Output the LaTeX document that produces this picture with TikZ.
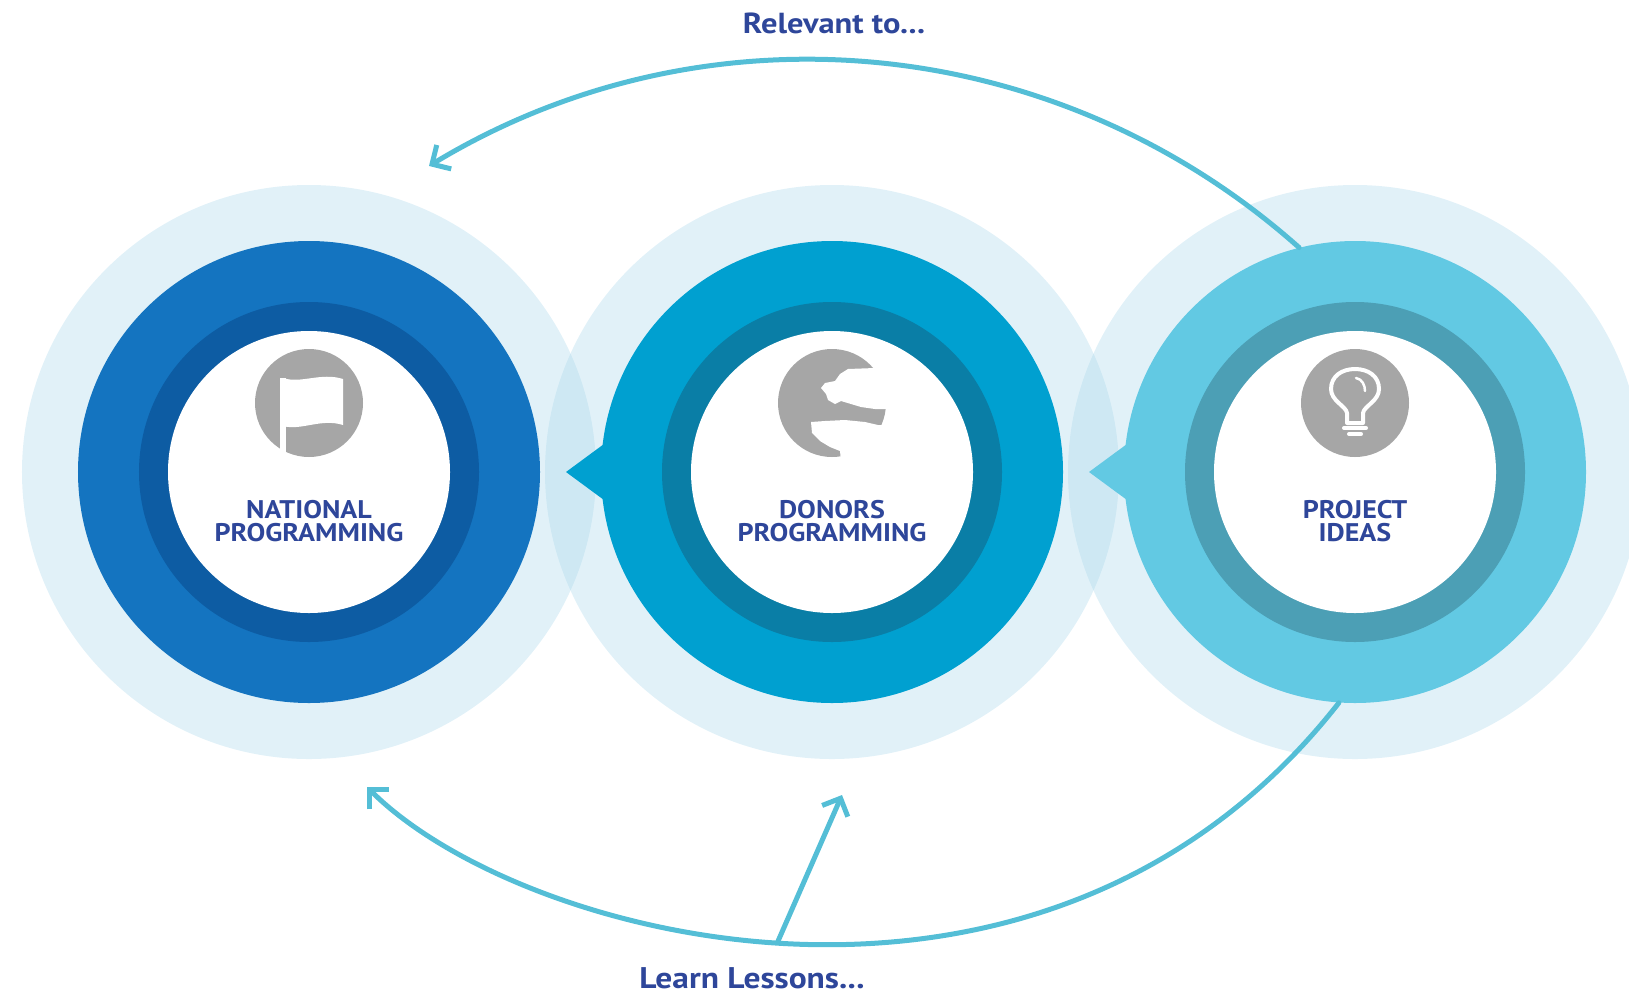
\documentclass[tikz,border=0pt]{standalone}
\usepackage{fontspec}
\setsansfont{PT Sans}
\newfontfamily\capsfont[FakeStretch=1.1]{PT Sans}
\newfontfamily\tagfont[FakeStretch=1.12]{PT Sans}
\usetikzlibrary{arrows.meta}
\definecolor{halocol}{RGB}{165,213,234}
\definecolor{natmain}{RGB}{20,116,192}
\definecolor{natband}{RGB}{13,92,163}
\definecolor{donmain}{RGB}{0,160,208}
\definecolor{donband}{RGB}{10,126,166}
\definecolor{promain}{RGB}{98,201,227}
\definecolor{proband}{RGB}{76,159,181}
\definecolor{iconc}{RGB}{166,166,166}
\definecolor{labelc}{RGB}{46,70,154}
\definecolor{arrowc}{RGB}{84,190,214}
\begin{document}
\begin{tikzpicture}[x=0.2mm, y=-0.2mm, font=\sffamily\bfseries, line join=round, line cap=round]
	\def\dx{523}
	\tikzset{halo/.style={circle,inner sep=0,minimum size=114.8mm,fill=halocol,fill opacity=0.33},
		ring/.style={circle,inner sep=0,minimum size=92.4mm},
		band/.style={circle,inner sep=0,minimum size=68mm},
		core/.style={circle,inner sep=0,minimum size=56.4mm,fill=white},
		badge/.style={circle,inner sep=0,minimum size=21.6mm,fill=iconc},
		caption/.style={text=labelc,align=center,font=\capsfont\bfseries\fontsize{14.5}{13}\selectfont},
		tag/.style={text=labelc,inner sep=0,font=\tagfont\bfseries\fontsize{16.5}{18}\selectfont},
		arr/.style={draw=arrowc,line width=1mm,-{Straight Barb[length=2.8mm,width=5.6mm]}}}
	\useasboundingbox (0,0) rectangle (1629,997);
	\path(309,472)coordinate(N)++(\dx,0)coordinate(D)++(\dx,0)coordinate(P);
	% light halos
	\foreach \s in {N,D,P}
	\node[halo](\s halo) at (\s){};
	% rings with pointers
	\node[ring,fill=natmain](natring) at (N){};
	\fill[donmain](D)++(-228,-28)--++(-38,28)--++(38,28)--cycle;
	\node[ring,fill=donmain](donring) at (D){};
	\fill[promain](P)++(-228,-28)--++(-38,28)--++(38,28)--cycle;
	\node[ring,fill=promain](proring) at (P){};
	\foreach \s/\b in {N/natband,D/donband,P/proband}{
		\node[band,fill=\b](\s band) at (\s){};
		\node[core](\s core) at (\s){};
		\path(\s)++(0,-69)node[badge](\s badge){};}
	\path(N)++(0,49)node[caption](natlabel){NATIONAL\\PROGRAMMING};
	\path(D)++(0,49)node[caption](donlabel){DONORS\\PROGRAMMING};
	\path(P)++(0,49)node[caption](prolabel){PROJECT\\IDEAS};
	% flag
	\begin{scope}[shift={(Nbadge.center)}]
		\fill[white](-26,-25)..controls(-8,-19)and(12,-31)..(34,-24)--(34,22)..controls(12,15)and(-8,28)..(-26,23)--cycle;
		\fill[white](-29,-25)rectangle(-23,52);
	\end{scope}
	% globe
	\begin{scope}[shift={(Dbadge.center)}]
		\fill[white](43,-35)--(16,-34)--(8,-29)--(3,-22)--(-7,-20)--(-11,-15)--(-6,-9)--(-4,-3)--(3,1)--(9,-2)--(19,1)--(29,4)--(43,6)--(69,6)--(69,-49)--cycle;
		\fill[white](-21,19)--(-7,18)--(13,17)--(33,19)--(46,22)--(69,22)--(69,71)--(9,58)--(8,48)--(-2,44)--(-12,38)--(-20,30)--cycle;
	\end{scope}
	% bulb
	\begin{scope}[shift={(Pbadge.center)},draw=white,line width=0.8mm]
		\draw(-8,20)--(-8,10)..controls(-9,3)and(-24,-2)..(-24,-14)..controls(-24,-27)and(-13,-34)..(0,-34)..controls(13,-34)and(24,-27)..(24,-14)..controls(24,-2)and(9,3)..(8,10)--(8,20)--cycle;
		\draw(-11,25)--(11,25);
		\draw(-6,31)--(6,31);
		\draw[line width=0.5mm](1,-25)..controls(7,-24)and(10,-18)..(10,-12);
	\end{scope}
	% connectors
	\coordinate(relend) at (429,166);
	\coordinate(lesend) at (367,787);
	\coordinate(donend) at (842,795);
	\draw[arr](proring.104)..controls(1056,31)and(705,-1)..(relend);
	\draw[arr](proring.266)..controls(1044,1080)and(520,940)..(lesend)coordinate[pos=0.52](fork);
	\draw[arr](fork)--(donend);
	\node[tag](reltext) at (834,23){Relevant to...};
	\node[tag,font=\tagfont\bfseries\fontsize{17}{18}\selectfont](lestext) at (752,978){Learn Lessons...};
\end{tikzpicture}
\end{document}
